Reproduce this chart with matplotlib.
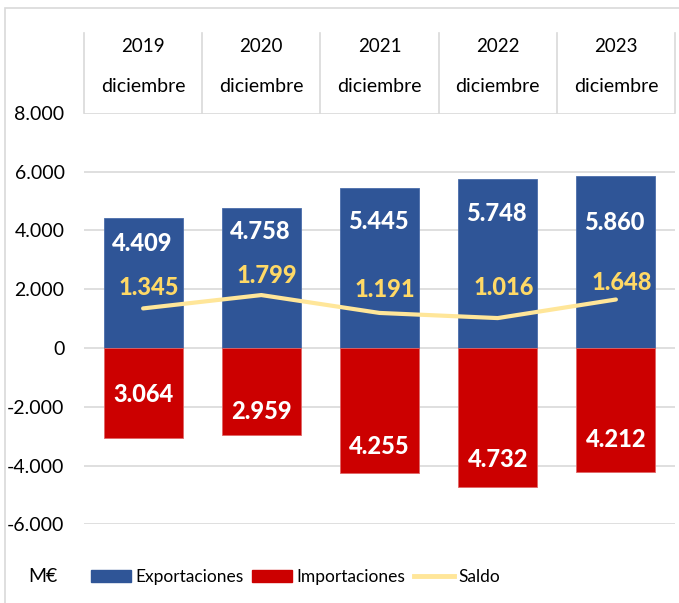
import matplotlib
matplotlib.use('Agg')
import matplotlib.pyplot as plt
import matplotlib.transforms as mtransforms
from matplotlib.patches import Rectangle
from matplotlib.lines import Line2D
import numpy as np

# data (M€)
years = ['2019', '2020', '2021', '2022', '2023']
month = 'diciembre'
exportaciones = [4409, 4758, 5445, 5748, 5860]
importaciones = [3064, 2959, 4255, 4732, 4212]
saldo = [1345, 1799, 1191, 1016, 1648]
yticks = [-6000, -4000, -2000, 0, 2000, 4000, 6000, 8000]

# label offsets in points (manual placement as in the original)
exp_dy = [-18, -17, -24, -25, -34]
imp_dy = [31, 17, 19, 20, 23]
sal_dy = [15, 14, 17, 22, 12]

BLUE = '#2F5597'
RED = '#CC0000'
LINE = '#FFE699'
SALDO_TXT = '#FFD966'
GRID = '#D9D9D9'

plt.rcParams['font.family'] = ['Lato', 'DejaVu Sans']

fig = plt.figure(figsize=(6.79, 6.03), dpi=100)
W, H = 679, 603
ax = fig.add_axes([84 / W, 1 - 524.3 / H, (675 - 84) / W, (524.3 - 112.8) / H])

x = np.arange(len(years))
ax.bar(x, exportaciones, width=0.67, color=BLUE, edgecolor='#4A6DAA', linewidth=0.6, zorder=2)
ax.bar(x, [-v for v in importaciones], width=0.67, color=RED, edgecolor='#E06666', linewidth=0.6, zorder=2)
ax.plot(x, saldo, color=LINE, linewidth=3, solid_capstyle='round', zorder=3)

def fmt(v):
    return f'{v:,}'.replace(',', '.')

lbl = dict(textcoords='offset points', ha='center', va='center',
           fontsize=17, fontweight='black', zorder=4)
for i in range(len(years)):
    ax.annotate(fmt(exportaciones[i]), (x[i], exportaciones[i]), xytext=(-1, exp_dy[i]),
                color='white', **lbl)
    ax.annotate(fmt(importaciones[i]), (x[i], -importaciones[i]), xytext=(0, imp_dy[i]),
                color='white', **lbl)
    ax.annotate(fmt(saldo[i]), (x[i], saldo[i]), xytext=(4, sal_dy[i]),
                color=SALDO_TXT, **lbl)

ax.set_xlim(-0.5, len(years) - 0.5)
ax.set_ylim(-6000, 8000)
ax.set_yticks(yticks)
ax.set_yticklabels([fmt(v) for v in yticks], fontsize=14)
ax.tick_params(axis='y', length=0, pad=14)
ax.set_xticks([])
ax.yaxis.grid(True, color=GRID, linewidth=1.2)
ax.set_axisbelow(True)
for s in ax.spines.values():
    s.set_visible(False)

# category header table above the plot
trans = mtransforms.blended_transform_factory(ax.transData, fig.transFigure)
for i, yr in enumerate(years):
    fig.text(x[i], 1 - 46 / H, yr, transform=trans, ha='center', va='center', fontsize=13.5)
    fig.text(x[i], 1 - 86 / H, month, transform=trans, ha='center', va='center', fontsize=14)
for b in np.arange(len(years) + 1) - 0.5:
    fig.add_artist(Line2D([b, b], [1 - 33 / H, 1 - 113 / H], transform=trans, color=GRID, linewidth=1.2))

# outer frame
fig.add_artist(Rectangle((5 / W, -0.1), 1.2, 1 - 8 / H + 0.1, transform=fig.transFigure,
                         fill=False, edgecolor=GRID, linewidth=1.2))

# legend
handles = [Rectangle((0, 0), 1, 1, color=BLUE),
           Rectangle((0, 0), 1, 1, color=RED),
           Line2D([0], [0], color=LINE, linewidth=3.5)]
fig.legend(handles, ['Exportaciones', 'Importaciones', 'Saldo'], ncol=3,
           loc='center left', bbox_to_anchor=(91 / W, 1 - 577 / H), frameon=False,
           fontsize=12.5, handlelength=2.3, handleheight=0.75, handletextpad=0.25,
           columnspacing=0.5, borderaxespad=0, borderpad=0)
fig.text(43 / W, 1 - 577 / H, 'M€', ha='center', va='center', fontsize=14)

fig.savefig('out.png', dpi=100)
